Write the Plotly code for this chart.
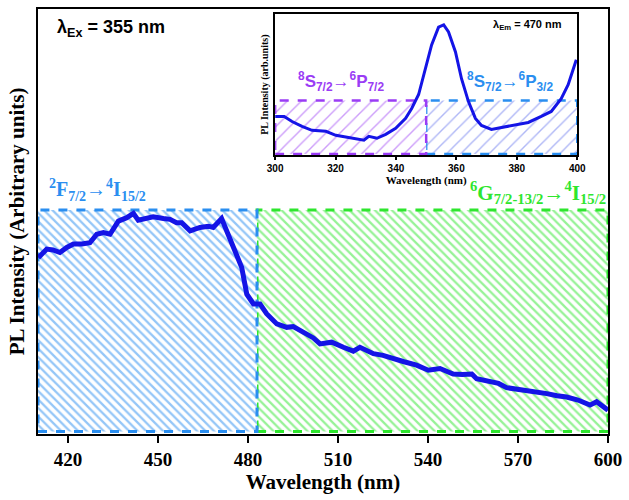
import plotly.graph_objects as go

# ---------------- data ----------------
main_wl = [410.1, 412.9, 415.0, 417.3, 419.6, 421.8, 424.6, 427.3, 429.6, 431.8, 434.0, 436.8,
           439.6, 441.8, 443.4, 446.2, 448.4, 451.8, 454.0, 456.2, 457.9, 460.7, 464.0, 466.8,
           468.4, 471.2, 474.0, 476.2, 477.9, 479.6, 481.8, 484.0, 486.2, 489.6, 492.9, 495.1,
           498.4, 501.8, 504.0, 507.9, 511.8, 515.1, 517.3, 521.8, 525.0, 528.4, 532.0, 536.2,
           540.1, 544.0, 548.4, 551.5, 554.6, 556.2, 560.7, 563.5, 566.2, 569.5, 572.9, 576.0,
           579.6, 583.0, 586.2, 590.0, 594.0, 596.2, 600.0]
main_pl = [41.5, 43.5, 43.3, 42.7, 43.9, 44.7, 44.7, 45.0, 47.0, 47.4, 47.0, 50.1,
           50.9, 51.9, 50.3, 50.7, 51.1, 50.7, 50.5, 49.7, 49.7, 47.8, 48.6, 48.9,
           48.6, 50.7, 46.2, 42.3, 39.2, 32.9, 30.6, 30.6, 28.3, 25.9, 25.1, 25.3,
           24.0, 22.6, 21.2, 21.6, 20.4, 19.5, 20.4, 18.9, 18.5, 17.7, 17.0, 16.2,
           15.0, 15.4, 14.1, 14.0, 14.1, 13.0, 12.5, 11.9, 10.9, 10.6, 10.3, 9.9,
           9.5, 9.0, 8.7, 8.0, 6.8, 7.6, 5.6]

inset_wl = [300.0, 303.0, 305.6, 308.9, 312.2, 316.8, 320.1, 324.4, 327.7, 329.4, 331.0, 333.7,
            336.6, 339.9, 343.2, 345.2, 347.5, 349.8, 351.8, 354.1, 355.8, 357.4, 359.7, 361.7,
            364.0, 366.3, 368.3, 371.6, 374.9, 379.5, 383.8, 388.1, 391.4, 394.7, 397.0, 399.7]
inset_pl = [27.5, 27.5, 23.9, 20.4, 17.6, 16.9, 14.1, 12.7, 11.3, 10.6, 13.4, 12.0,
            14.8, 19.0, 26.1, 33.1, 43.0, 61.3, 78.2, 90.8, 92.3, 87.3, 73.2, 54.2,
            38.0, 26.1, 21.1, 18.3, 19.7, 21.8, 23.2, 27.5, 31.0, 40.1, 50.0, 67.6]

# band regions: (start, end, top level) -- drawn in this order
main_bands = [(483, 600, 52.7), (410, 483, 52.7)]
inset_bands = [(350, 400, 38.7), (300, 350, 38.7)]

main_ticks = [420, 450, 480, 510, 540, 570, 600]
inset_ticks = [300, 320, 340, 360, 380, 400]

BLUE_BAND = "#2a8ef0"
GREEN_BAND = "#2ee62e"
PURPLE = "#9a3cf5"
INSET_BLUE_HATCH = "#6070ee"
CURVE = "#1414e6"

fig = go.Figure()

# main bands
for (x0, x1, top), col in zip(main_bands, [GREEN_BAND, BLUE_BAND]):
    fig.add_trace(go.Scatter(
        x=[x0, x1, x1, x0, x0], y=[0.6, 0.6, top, top, 0.6],
        mode="lines", fill="toself", fillcolor="rgba(0,0,0,0)",
        fillpattern=dict(shape="\\", fgcolor=col, bgcolor="white", size=6, solidity=0.38),
        line=dict(color=col, width=3, dash="dash"),
        hoverinfo="skip", showlegend=False, xaxis="x", yaxis="y"))

fig.add_trace(go.Scatter(x=main_wl, y=main_pl, mode="lines",
                         line=dict(color=CURVE, width=5), showlegend=False,
                         xaxis="x", yaxis="y"))

# inset bands
for (x0, x1, top), edge, hatch in zip(inset_bands, [BLUE_BAND, PURPLE], [INSET_BLUE_HATCH, PURPLE]):
    fig.add_trace(go.Scatter(
        x=[x0, x1, x1, x0, x0], y=[0.8, 0.8, top, top, 0.8],
        mode="lines", fill="toself", fillcolor="rgba(0,0,0,0)",
        fillpattern=dict(shape="/", fgcolor=hatch, bgcolor="white", size=10, solidity=0.14),
        line=dict(color=edge, width=2.5, dash="dash"),
        hoverinfo="skip", showlegend=False, xaxis="x2", yaxis="y2"))

fig.add_trace(go.Scatter(x=inset_wl, y=inset_pl, mode="lines",
                         line=dict(color=CURVE, width=3), showlegend=False,
                         xaxis="x2", yaxis="y2"))

serif = "Liberation Serif"
sans = "Liberation Sans"

fig.update_layout(
    width=629, height=500,
    margin=dict(l=38, r=19, t=7, b=66),
    paper_bgcolor="white", plot_bgcolor="white",
    xaxis=dict(domain=[0, 1], range=[410, 600], tickvals=main_ticks,
               showline=True, linecolor="black", linewidth=2, mirror=True,
               ticks="outside", ticklen=7, tickwidth=2, tickcolor="black",
               showgrid=False, zeroline=False,
               tickfont=dict(family=serif, size=19, color="black", weight="bold"),
               title=dict(text="Wavelength (nm)", standoff=6,
                          font=dict(family=serif, size=21, color="black", weight="bold"))),
    yaxis=dict(domain=[0, 1], range=[0, 100], showticklabels=False, ticks="",
               showline=True, linecolor="black", linewidth=2, mirror=True,
               showgrid=False, zeroline=False,
               title=dict(text="PL Intensity (Arbitrary units)", standoff=6,
                          font=dict(family=serif, size=21, color="black", weight="bold"))),
    xaxis2=dict(domain=[0.416, 0.946], anchor="y2", range=[300, 400], tickvals=inset_ticks,
                showline=True, linecolor="black", linewidth=2, mirror=True,
                ticks="outside", ticklen=3, tickwidth=1.5, tickcolor="black",
                showgrid=False, zeroline=False,
                tickfont=dict(family=sans, size=10, color="black", weight="bold"),
                title=dict(text="Wavelength (nm)", standoff=2,
                           font=dict(family=serif, size=11, color="black", weight="bold"))),
    yaxis2=dict(domain=[0.656, 0.988], anchor="x2", range=[0, 100], showticklabels=False,
                ticks="", showline=True, linecolor="black", linewidth=2, mirror=True,
                showgrid=False, zeroline=False,
                title=dict(text="PL Intensity (arb.units)", standoff=3,
                           font=dict(family=serif, size=10, color="black", weight="bold"))),
)

annots = [
    dict(x=415.7, y=95.5, xref="x", yref="y", xanchor="left", yanchor="middle",
         text="λ<sub>Ex</sub> = 355 nm", font=dict(family=sans, size=18, color="black", weight="bold")),
    dict(x=413.0, y=57.5, xref="x", yref="y", xanchor="left", yanchor="middle",
         text="<sup>2</sup>F<sub>7/2</sub>→<sup>4</sup>I<sub>15/2</sub>",
         font=dict(family=serif, size=20, color=BLUE_BAND, weight="bold")),
    dict(x=600, y=56.8, xref="x", yref="y", xanchor="right", yanchor="middle",
         text="<sup>6</sup>G<sub>7/2-13/2</sub>→<sup>4</sup>I<sub>15/2</sub>",
         font=dict(family=serif, size=21, color=GREEN_BAND, weight="bold")),
    dict(x=371.3, y=92, xref="x2", yref="y2", xanchor="left", yanchor="middle",
         text="λ<sub>Em</sub> = 470 nm", font=dict(family=sans, size=11, color="black", weight="bold")),
    dict(x=306.9, y=52, xref="x2", yref="y2", xanchor="left", yanchor="middle",
         text="<sup>8</sup>S<sub>7/2</sub>→<sup>6</sup>P<sub>7/2</sub>",
         font=dict(family=sans, size=17, color=PURPLE, weight="bold")),
    dict(x=363.0, y=52, xref="x2", yref="y2", xanchor="left", yanchor="middle",
         text="<sup>8</sup>S<sub>7/2</sub>→<sup>6</sup>P<sub>3/2</sub>",
         font=dict(family=sans, size=17, color=BLUE_BAND, weight="bold")),
]
for a in annots:
    a["showarrow"] = False
fig.update_layout(annotations=annots)

fig.write_html("out.html")
